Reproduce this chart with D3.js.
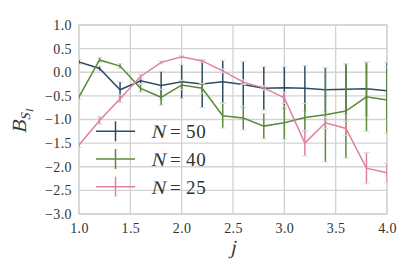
<!DOCTYPE html>
<html>
<head>
<meta charset="utf-8">
<script src="https://cdn.jsdelivr.net/npm/d3@7"></script>
<style>
  body { margin: 0; background: #fff; }
</style>
</head>
<body>
<div id="chart"></div>
<script>
const jValues = [1.0, 1.2, 1.4, 1.6, 1.8, 2.0, 2.2, 2.4, 2.6, 2.8, 3.0, 3.2, 3.4, 3.6, 3.8, 4.0];

const n50 = [0.22, 0.08, -0.37, -0.18, -0.28, -0.20, -0.25, -0.20, -0.26, -0.34, -0.33, -0.34, -0.37, -0.36, -0.35, -0.39];
const n50Err = [0.05, 0.05, 0.17, 0.06, 0.30, 0.36, 0.50, 0.45, 0.49, 0.46, 0.45, 0.48, 0.47, 0.53, 0.57, 0.60];

const n40 = [-0.52, 0.26, 0.13, -0.34, -0.53, -0.27, -0.34, -0.92, -0.97, -1.14, -1.07, -0.96, -0.90, -0.82, -0.52, -0.59];
const n40Err = [0.05, 0.05, 0.05, 0.08, 0.17, 0.10, 0.10, 0.26, 0.25, 0.27, 0.35, 0.30, 1.00, 1.00, 0.73, 0.70];

const n25 = [-1.54, -1.02, -0.56, -0.09, 0.21, 0.33, 0.24, 0.03, -0.21, -0.33, -0.54, -1.50, -1.07, -1.19, -2.03, -2.13];
const n25Err = [0.05, 0.08, 0.08, 0.05, 0.03, 0.03, 0.03, 0.04, 0.05, 0.05, 0.12, 0.27, 0.12, 0.15, 0.33, 0.20];

const seriesNames = ["50", "40", "25"];
const xTicks = [1.0, 1.5, 2.0, 2.5, 3.0, 3.5, 4.0];
const yTicks = [1.0, 0.5, 0.0, -0.5, -1.0, -1.5, -2.0, -2.5, -3.0];

const COLORS = ["#2b4e63", "#5b8a3a", "#e0819f"];
const GRID_COLOR = "#d3d3d3";
const TEXT_COLOR = "#333";
const FONT = "'Liberation Serif', 'Times New Roman', serif";

const DIM = {
  WIDTH: 415,
  HEIGHT: 277,
  MARGIN: { top: 25, right: 28, bottom: 63, left: 79 },
};

const series = [
  { name: seriesNames[0], values: n50, errs: n50Err, color: COLORS[0] },
  { name: seriesNames[1], values: n40, errs: n40Err, color: COLORS[1] },
  { name: seriesNames[2], values: n25, errs: n25Err, color: COLORS[2] },
];

const width = DIM.WIDTH - DIM.MARGIN.left - DIM.MARGIN.right;
const height = DIM.HEIGHT - DIM.MARGIN.top - DIM.MARGIN.bottom;

const svgRoot = d3.select("#chart")
  .append("svg")
  .attr("width", DIM.WIDTH)
  .attr("height", DIM.HEIGHT);

const svg = svgRoot.append("g")
  .attr("transform", `translate(${DIM.MARGIN.left},${DIM.MARGIN.top})`);

const x = d3.scaleLinear().domain([1.0, 4.0]).range([0, width]);
const y = d3.scaleLinear().domain([-3.0, 1.0]).range([height, 0]);

svgRoot.append("defs").append("clipPath").attr("id", "plot-clip")
  .append("rect").attr("width", width).attr("height", height);

// the serif italic face is missing, so slant the upright glyphs instead
function mathText(parent, str, px, py, size, italic) {
  const g = parent.append("g").attr("transform", `translate(${px},${py})`);
  const t = g.append("text")
    .style("font-family", FONT)
    .style("font-size", size + "px")
    .attr("fill", TEXT_COLOR)
    .text(str);
  if (italic) t.attr("transform", "skewX(-13)");
  return t;
}

// grid
svg.append("g")
  .selectAll("line")
  .data(xTicks)
  .enter()
  .append("line")
  .attr("x1", d => x(d)).attr("x2", d => x(d))
  .attr("y1", 0).attr("y2", height)
  .attr("stroke", GRID_COLOR).attr("stroke-width", 1.3);

svg.append("g")
  .selectAll("line")
  .data(yTicks)
  .enter()
  .append("line")
  .attr("x1", 0).attr("x2", width)
  .attr("y1", d => y(d)).attr("y2", d => y(d))
  .attr("stroke", GRID_COLOR).attr("stroke-width", 1.3);

svg.append("rect")
  .attr("width", width).attr("height", height)
  .attr("fill", "none").attr("stroke", GRID_COLOR).attr("stroke-width", 1.3);

// tick labels
const fmt = d3.format(".1f");
const xAxis = svg.append("g")
  .attr("transform", `translate(0,${height})`)
  .call(d3.axisBottom(x).tickValues(xTicks).tickFormat(fmt).tickSize(0).tickPadding(9));
const yAxis = svg.append("g")
  .call(d3.axisLeft(y).tickValues(yTicks).tickFormat(fmt).tickSize(0).tickPadding(7));
[xAxis, yAxis].forEach(a => {
  a.select(".domain").remove();
  a.selectAll("text")
    .style("font-family", FONT)
    .style("font-size", "14px")
    .attr("fill", TEXT_COLOR)
    .attr("letter-spacing", 0.4);
});

// series
const plot = svg.append("g").attr("clip-path", "url(#plot-clip)");
const line = d3.line().x((d, i) => x(jValues[i])).y(d => y(d));

series.forEach(s => {
  const g = plot.append("g");
  g.selectAll("line.err")
    .data(s.values)
    .enter()
    .append("line")
    .attr("class", "err")
    .attr("x1", (d, i) => x(jValues[i])).attr("x2", (d, i) => x(jValues[i]))
    .attr("y1", (d, i) => y(d + s.errs[i])).attr("y2", (d, i) => y(d - s.errs[i]))
    .attr("stroke", s.color).attr("stroke-width", 1.5);
  const caps = s.values.flatMap((d, i) => [[jValues[i], d + s.errs[i]], [jValues[i], d - s.errs[i]]]);
  g.selectAll("line.cap")
    .data(caps)
    .enter()
    .append("line")
    .attr("class", "cap")
    .attr("x1", d => x(d[0]) - 3).attr("x2", d => x(d[0]) + 3)
    .attr("y1", d => y(d[1])).attr("y2", d => y(d[1]))
    .attr("stroke", "#dcdcdc").attr("stroke-width", 1);
  g.append("path")
    .datum(s.values)
    .attr("d", line)
    .attr("fill", "none")
    .attr("stroke", s.color)
    .attr("stroke-width", 1.5);
});

// legend
const legend = svg.append("g").attr("transform", "translate(17,106.3)");
series.forEach((s, i) => {
  const row = legend.append("g").attr("transform", `translate(0,${i * 27.7})`);
  row.append("line").attr("x1", 0).attr("x2", 39).attr("y1", 0).attr("y2", 0)
    .attr("stroke", s.color).attr("stroke-width", 1.5);
  row.append("line").attr("x1", 19.5).attr("x2", 19.5).attr("y1", -10).attr("y2", 10)
    .attr("stroke", s.color).attr("stroke-width", 1.5);
  mathText(row, "N", 55, 6.8, 19, true);
  mathText(row, "=", 74, 6.8, 19, false);
  mathText(row, s.name, 90, 6.8, 19, false).attr("letter-spacing", 0.8);
});

// axis titles
mathText(svg, "j", x(2.5) - 3, height + 40, 20, true);

const ylab = svg.append("g").attr("transform", `translate(-53,${height / 2 + 14}) rotate(-90)`);
mathText(ylab, "B", 0, 0, 20, true);
mathText(ylab, "S", 13, 4, 13.5, true);
mathText(ylab, "I", 21, 7, 10, true);
</script>
</body>
</html>
